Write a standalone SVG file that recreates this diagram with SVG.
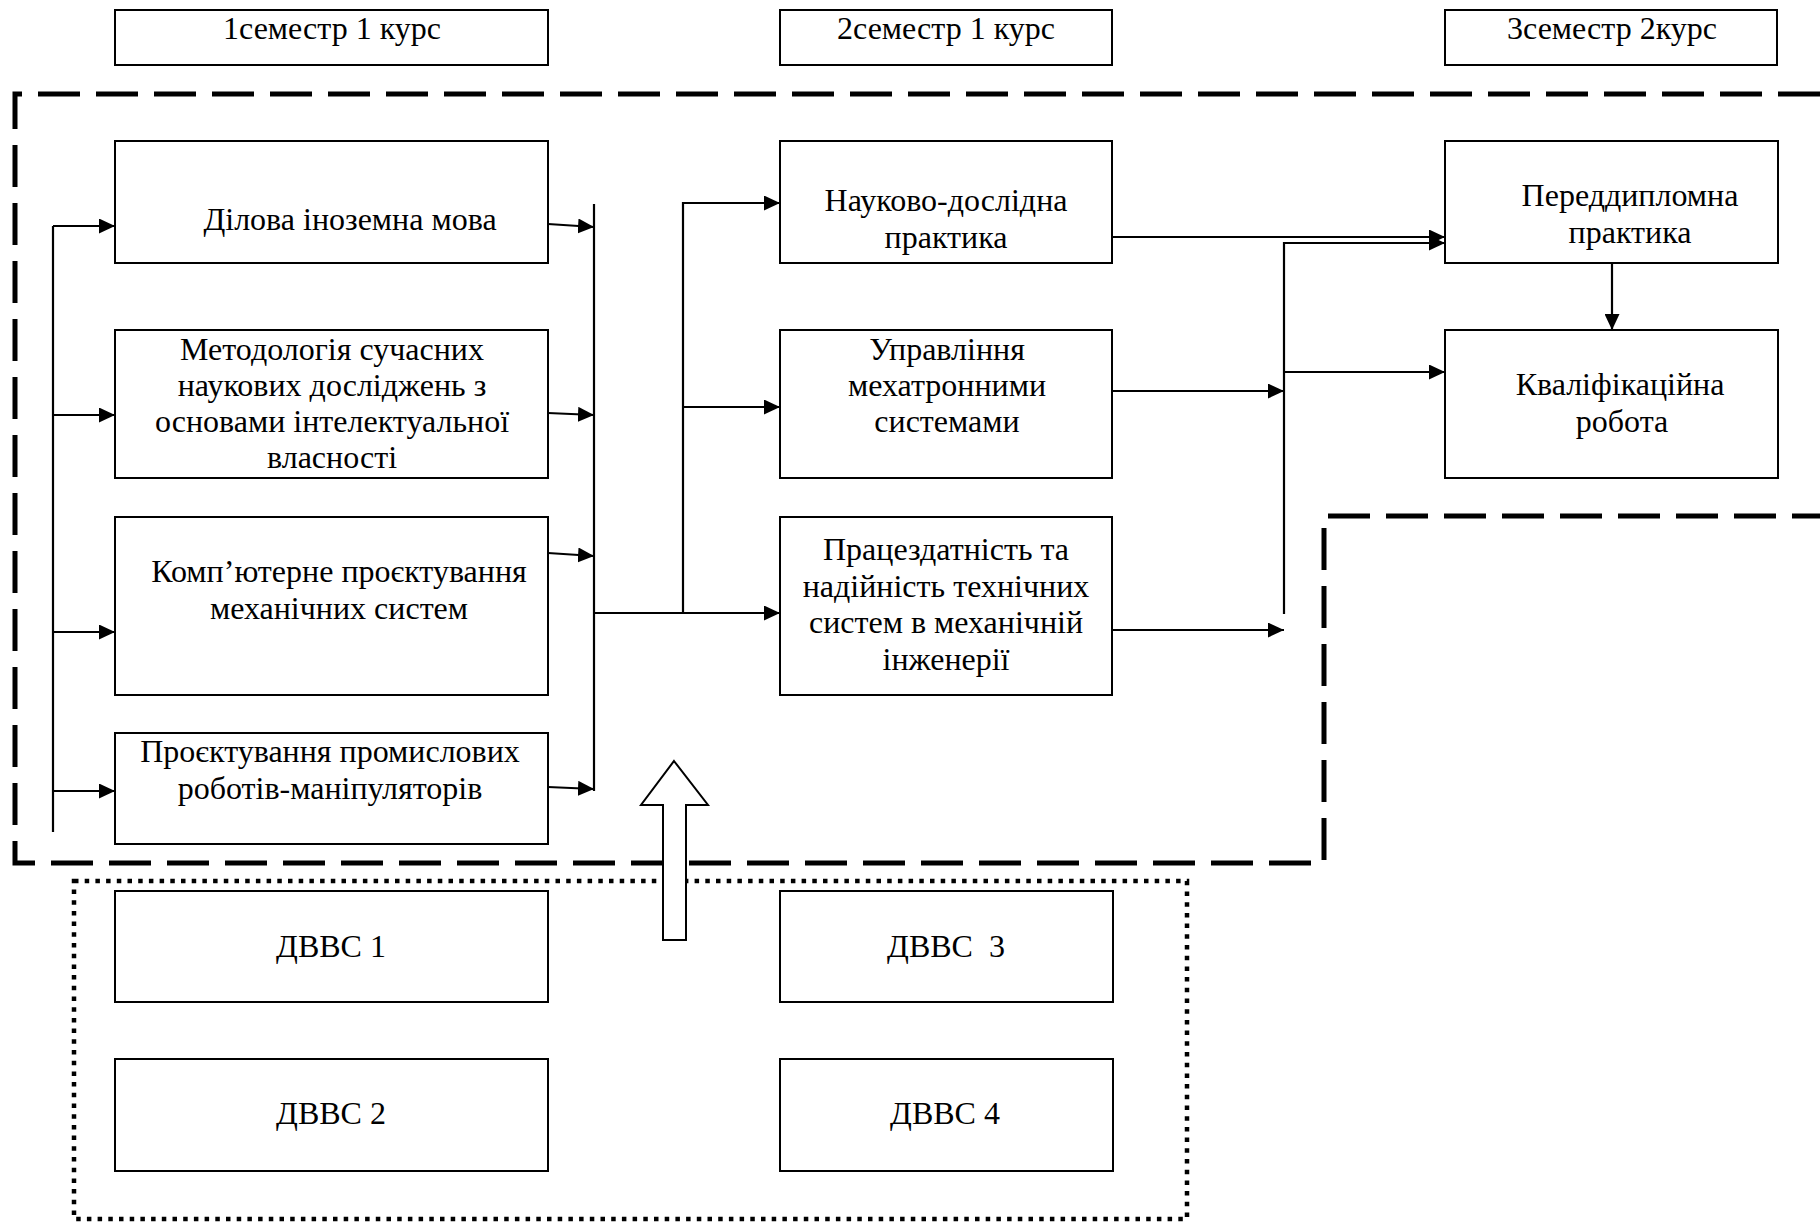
<svg xmlns="http://www.w3.org/2000/svg" width="1820" height="1222" viewBox="0 0 1820 1222">
<style>
.box{fill:#fff;stroke:#000;stroke-width:2}
.t{font-family:"Liberation Serif","Times New Roman",serif;font-size:32px;fill:#000;text-anchor:middle}
.c{fill:none;stroke:#000;stroke-width:2.2}
.dash{fill:none;stroke:#000;stroke-width:5;stroke-dasharray:42 16}
.dot{fill:none;stroke:#000;stroke-width:4.5;stroke-dasharray:4.5 6.2}
</style>
<defs>
<marker id="ah" markerUnits="userSpaceOnUse" markerWidth="16" markerHeight="15" refX="16" refY="7.5" orient="auto">
<path d="M0,0 L16,7.5 L0,15 z" fill="#000"/>
</marker>
</defs>
<rect width="1820" height="1222" fill="#fff"/>
<g id="regions">
<path class="dash" d="M1820,94 L15,94 L15,863 L1324,863 L1324,516 L1820,516"/>
<rect class="dot" x="74" y="881" width="1113" height="338"/>
</g>
<g id="h1"><rect class="box" x="115" y="10" width="433" height="55"/><text class="t" x="332" y="39">1семестр 1 курс</text></g>
<g id="h2"><rect class="box" x="780" y="10" width="332" height="55"/><text class="t" x="946" y="39">2семестр 1 курс</text></g>
<g id="h3"><rect class="box" x="1445" y="10" width="332" height="55"/><text class="t" x="1612" y="39">3семестр 2курс</text></g>
<g id="nA"><rect class="box" x="115" y="141" width="433" height="122"/><text class="t" x="350" y="230">Ділова іноземна мова</text></g>
<g id="nB"><rect class="box" x="115" y="330" width="433" height="148"/><text class="t" x="332" y="360">Методологія сучасних</text><text class="t" x="332" y="396">наукових досліджень з</text><text class="t" x="332" y="432">основами інтелектуальної</text><text class="t" x="332" y="468">власності</text></g>
<g id="nC"><rect class="box" x="115" y="517" width="433" height="178"/><text class="t" x="339" y="582">Комп’ютерне проєктування</text><text class="t" x="339" y="619">механічних систем</text></g>
<g id="nD"><rect class="box" x="115" y="733" width="433" height="111"/><text class="t" x="330" y="762">Проєктування промислових</text><text class="t" x="330" y="799">роботів-маніпуляторів</text></g>
<g id="nE"><rect class="box" x="780" y="141" width="332" height="122"/><text class="t" x="946" y="211">Науково-дослідна</text><text class="t" x="946" y="248">практика</text></g>
<g id="nF"><rect class="box" x="780" y="330" width="332" height="148"/><text class="t" x="947" y="360">Управління</text><text class="t" x="947" y="396">мехатронними</text><text class="t" x="947" y="432">системами</text></g>
<g id="nG"><rect class="box" x="780" y="517" width="332" height="178"/><text class="t" x="946" y="560">Працездатність та</text><text class="t" x="946" y="597">надійність технічних</text><text class="t" x="946" y="633">систем в механічній</text><text class="t" x="946" y="670">інженерії</text></g>
<g id="nH"><rect class="box" x="1445" y="141" width="333" height="122"/><text class="t" x="1630" y="206">Переддипломна</text><text class="t" x="1630" y="243">практика</text></g>
<g id="nI"><rect class="box" x="1445" y="330" width="333" height="148"/><text class="t" x="1620" y="395">Кваліфікаційна</text><text class="t" x="1622" y="432">робота</text></g>
<g id="d1"><rect class="box" x="115" y="891" width="433" height="111"/><text class="t" x="331" y="957">ДВВС 1</text></g>
<g id="d2"><rect class="box" x="115" y="1059" width="433" height="112"/><text class="t" x="331" y="1124">ДВВС 2</text></g>
<g id="d3"><rect class="box" x="780" y="891" width="333" height="111"/><text class="t" x="946" y="957" xml:space="preserve">ДВВС  3</text></g>
<g id="d4"><rect class="box" x="780" y="1059" width="333" height="112"/><text class="t" x="945" y="1124">ДВВС 4</text></g>
<g id="bigarrow"><polygon points="674,761 708,805 686,805 686,940 663,940 663,805 641,805" fill="#fff" stroke="#000" stroke-width="2"/></g>
<g id="connectors">
<path class="c" d="M53,226 V832"/>
<path class="c" d="M53,226 H115" marker-end="url(#ah)"/>
<path class="c" d="M53,415 H115" marker-end="url(#ah)"/>
<path class="c" d="M53,632 H115" marker-end="url(#ah)"/>
<path class="c" d="M53,791 H115" marker-end="url(#ah)"/>
<path class="c" d="M594,204 V791"/>
<path class="c" d="M548,224 L594,227" marker-end="url(#ah)"/>
<path class="c" d="M548,413 L594,415" marker-end="url(#ah)"/>
<path class="c" d="M548,553 L594,556" marker-end="url(#ah)"/>
<path class="c" d="M548,787 L594,789" marker-end="url(#ah)"/>
<path class="c" d="M594,613 H780" marker-end="url(#ah)"/>
<path class="c" d="M683,613 V203 H780" marker-end="url(#ah)"/>
<path class="c" d="M683,407 H780" marker-end="url(#ah)"/>
<path class="c" d="M1112,237 H1445" marker-end="url(#ah)"/>
<path class="c" d="M1284,614 V243 H1445" marker-end="url(#ah)"/>
<path class="c" d="M1284,372 H1445" marker-end="url(#ah)"/>
<path class="c" d="M1112,391 H1284" marker-end="url(#ah)"/>
<path class="c" d="M1112,630 H1284" marker-end="url(#ah)"/>
<path class="c" d="M1612,263 V330" marker-end="url(#ah)"/>
</g>
</svg>
